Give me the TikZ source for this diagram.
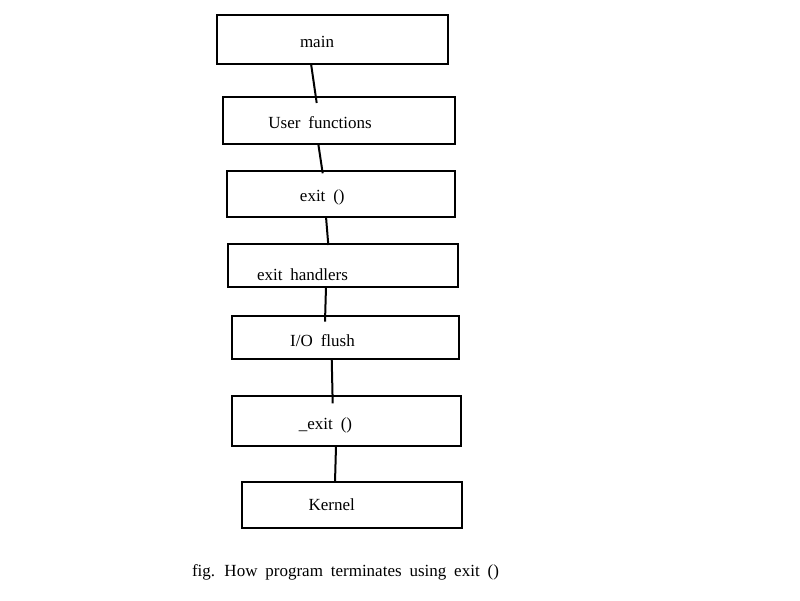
\documentclass[tikz,border=0pt]{standalone}
\usepackage{fontspec}
\setmainfont{Liberation Serif}[WordSpace=1.85]
\begin{document}
\begin{tikzpicture}[x=1pt,y=-1pt,
		box/.style={draw, line width=2pt, inner sep=0pt},
		lbl/.style={anchor=base, inner sep=0pt, font=\fontsize{17}{20}\selectfont},
		link/.style={line width=2pt}]
		\useasboundingbox (0,0) rectangle (800,600);
		\node[box, minimum width=231pt,   minimum height=48.5pt] (main)     at (332.5,39.3)  {};
		\node[box, minimum width=232.3pt, minimum height=47pt]   (user)     at (338.8,120.5) {};
		\node[box, minimum width=228.3pt, minimum height=45.7pt] (exitc)    at (340.8,193.8) {};
		\node[box, minimum width=230pt,   minimum height=42.7pt] (handlers) at (343.3,265.3) {};
		\node[box, minimum width=227pt,   minimum height=43.3pt] (flush)    at (345.8,337.7) {};
		\node[box, minimum width=228.7pt, minimum height=50.3pt] (uexit)    at (346.7,420.8) {};
		\node[box, minimum width=220pt,   minimum height=45.3pt] (kernel)   at (352.3,505)   {};
		\node[lbl] (tmain)     at (317,47.7)    {main};
		\node[lbl] (tuser)     at (320,128.3)   {User functions};
		\node[lbl] (texitc)    at (322.3,201.2) {exit ()};
		\node[lbl] (thandlers) at (302.5,280)   {exit handlers};
		\node[lbl] (tflush)    at (322.5,346)   {I/O flush};
		\node[lbl] (tuexit)    at (325.5,429.5) {\_exit ()};
		\node[lbl] (tkernel)   at (331.7,510)   {Kernel};
		\node[lbl] (caption)   at (345.5,576.7) {fig. How program terminates using exit ()};
		\coordinate (a1) at (311,63.5);   \coordinate (b1) at (316.7,103);
		\coordinate (a2) at (318.3,144);  \coordinate (b2) at (322.7,173.3);
		\coordinate (a3) at (326,216.7);  \coordinate (b3) at (328.3,245);
		\coordinate (a4) at (326,286.7);  \coordinate (b4) at (325,321.7);
		\coordinate (a5) at (331.7,358.3);\coordinate (b5) at (332.7,403.3);
		\coordinate (a6) at (336,446);    \coordinate (b6) at (335,482.3);
		\draw[link] (a1) -- (b1);
		\draw[link] (a2) -- (b2);
		\draw[link] (a3) -- (b3);
		\draw[link] (a4) -- (b4);
		\draw[link] (a5) -- (b5);
		\draw[link] (a6) -- (b6);
	\end{tikzpicture}
\end{document}
